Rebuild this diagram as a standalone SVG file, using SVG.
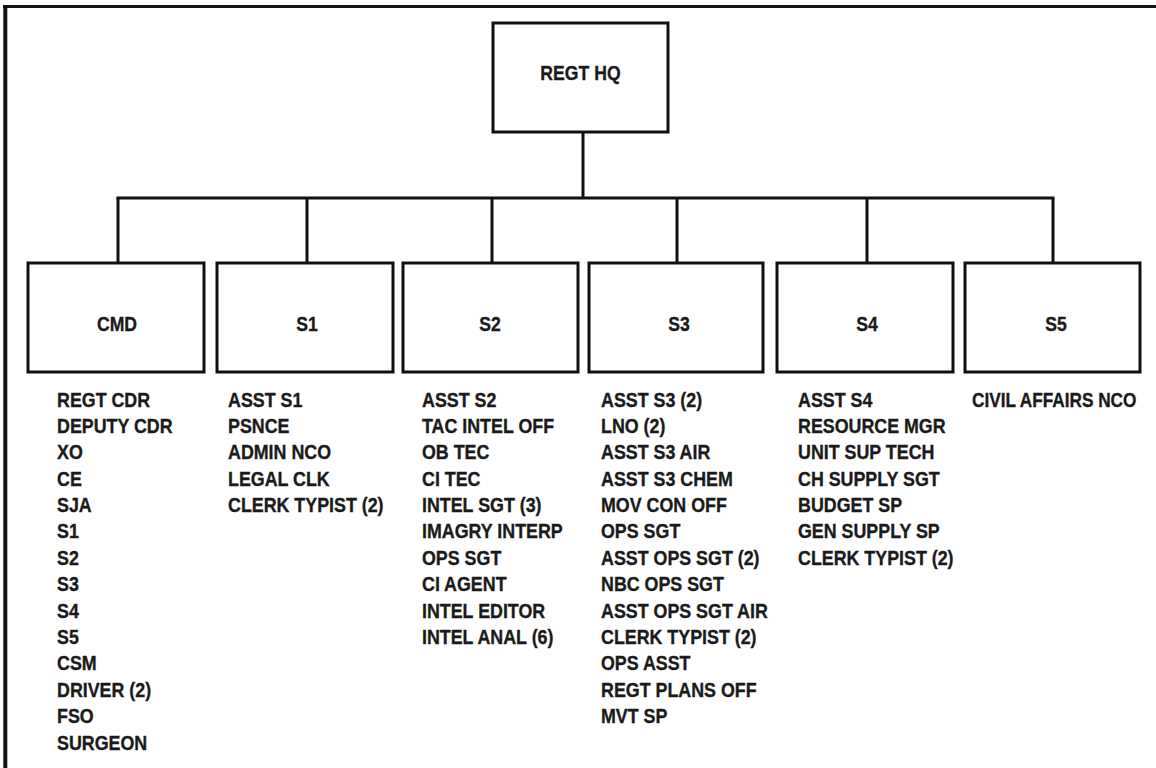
<svg xmlns="http://www.w3.org/2000/svg" width="1156" height="768" viewBox="0 0 1156 768">
<style>
.box{fill:#fff;stroke:#111;stroke-width:3}
.ln{fill:none;stroke:#111;stroke-width:3}
text{font-family:"Liberation Sans",Arial,sans-serif;font-weight:bold;font-size:21px;fill:#1a1a1a;stroke:#1a1a1a;stroke-width:0.35}
.lbl{text-anchor:middle}
</style>
<rect width="1156" height="768" fill="#fff"/>
<g id="frame">
<line x1="3" y1="6.5" x2="1156" y2="6.5" stroke="#111" stroke-width="3"/>
<line x1="5.3" y1="5" x2="5.3" y2="768" stroke="#111" stroke-width="4"/>
</g>
<g id="connectors">
<line class="ln" x1="583" y1="132" x2="583" y2="198"/>
<line class="ln" x1="116.5" y1="198" x2="1054.5" y2="198"/>
<line class="ln" x1="118" y1="198" x2="118" y2="263"/>
<line class="ln" x1="307" y1="198" x2="307" y2="263"/>
<line class="ln" x1="492" y1="198" x2="492" y2="263"/>
<line class="ln" x1="677" y1="198" x2="677" y2="263"/>
<line class="ln" x1="867" y1="198" x2="867" y2="263"/>
<line class="ln" x1="1053" y1="198" x2="1053" y2="263"/>
</g>
<g id="hq">
<rect class="box" x="493" y="23" width="175" height="109"/>
<text class="lbl" transform="translate(580.5,80) scale(0.84,1)">REGT HQ</text>
</g>
<g id="cmd">
<rect class="box" x="28" y="263" width="176" height="109"/>
<text class="lbl" transform="translate(117,331) scale(0.84,1)">CMD</text>
<text transform="translate(57,406.5) scale(0.85,1)">
<tspan x="0" y="0">REGT CDR</tspan>
<tspan x="0" dy="26.4">DEPUTY CDR</tspan>
<tspan x="0" dy="26.4">XO</tspan>
<tspan x="0" dy="26.4">CE</tspan>
<tspan x="0" dy="26.4">SJA</tspan>
<tspan x="0" dy="26.4">S1</tspan>
<tspan x="0" dy="26.4">S2</tspan>
<tspan x="0" dy="26.4">S3</tspan>
<tspan x="0" dy="26.4">S4</tspan>
<tspan x="0" dy="26.4">S5</tspan>
<tspan x="0" dy="26.4">CSM</tspan>
<tspan x="0" dy="26.4">DRIVER (2)</tspan>
<tspan x="0" dy="26.4">FSO</tspan>
<tspan x="0" dy="26.4">SURGEON</tspan>
</text>
</g>
<g id="s1">
<rect class="box" x="217" y="263" width="176" height="109"/>
<text class="lbl" transform="translate(307,331) scale(0.84,1)">S1</text>
<text transform="translate(228,406.5) scale(0.85,1)">
<tspan x="0" y="0">ASST S1</tspan>
<tspan x="0" dy="26.4">PSNCE</tspan>
<tspan x="0" dy="26.4">ADMIN NCO</tspan>
<tspan x="0" dy="26.4">LEGAL CLK</tspan>
<tspan x="0" dy="26.4">CLERK TYPIST (2)</tspan>
</text>
</g>
<g id="s2">
<rect class="box" x="403" y="263" width="175" height="109"/>
<text class="lbl" transform="translate(490,331) scale(0.84,1)">S2</text>
<text transform="translate(422,406.5) scale(0.85,1)">
<tspan x="0" y="0">ASST S2</tspan>
<tspan x="0" dy="26.4">TAC INTEL OFF</tspan>
<tspan x="0" dy="26.4">OB TEC</tspan>
<tspan x="0" dy="26.4">CI TEC</tspan>
<tspan x="0" dy="26.4">INTEL SGT (3)</tspan>
<tspan x="0" dy="26.4">IMAGRY INTERP</tspan>
<tspan x="0" dy="26.4">OPS SGT</tspan>
<tspan x="0" dy="26.4">CI AGENT</tspan>
<tspan x="0" dy="26.4">INTEL EDITOR</tspan>
<tspan x="0" dy="26.4">INTEL ANAL (6)</tspan>
</text>
</g>
<g id="s3">
<rect class="box" x="589" y="263" width="174" height="109"/>
<text class="lbl" transform="translate(679,331) scale(0.84,1)">S3</text>
<text transform="translate(601,406.5) scale(0.85,1)">
<tspan x="0" y="0">ASST S3 (2)</tspan>
<tspan x="0" dy="26.4">LNO (2)</tspan>
<tspan x="0" dy="26.4">ASST S3 AIR</tspan>
<tspan x="0" dy="26.4">ASST S3 CHEM</tspan>
<tspan x="0" dy="26.4">MOV CON OFF</tspan>
<tspan x="0" dy="26.4">OPS SGT</tspan>
<tspan x="0" dy="26.4">ASST OPS SGT (2)</tspan>
<tspan x="0" dy="26.4">NBC OPS SGT</tspan>
<tspan x="0" dy="26.4">ASST OPS SGT AIR</tspan>
<tspan x="0" dy="26.4">CLERK TYPIST (2)</tspan>
<tspan x="0" dy="26.4">OPS ASST</tspan>
<tspan x="0" dy="26.4">REGT PLANS OFF</tspan>
<tspan x="0" dy="26.4">MVT SP</tspan>
</text>
</g>
<g id="s4">
<rect class="box" x="777" y="263" width="176" height="109"/>
<text class="lbl" transform="translate(867,331) scale(0.84,1)">S4</text>
<text transform="translate(798,406.5) scale(0.85,1)">
<tspan x="0" y="0">ASST S4</tspan>
<tspan x="0" dy="26.4">RESOURCE MGR</tspan>
<tspan x="0" dy="26.4">UNIT SUP TECH</tspan>
<tspan x="0" dy="26.4">CH SUPPLY SGT</tspan>
<tspan x="0" dy="26.4">BUDGET SP</tspan>
<tspan x="0" dy="26.4">GEN SUPPLY SP</tspan>
<tspan x="0" dy="26.4">CLERK TYPIST (2)</tspan>
</text>
</g>
<g id="s5">
<rect class="box" x="965" y="263" width="175" height="109"/>
<text class="lbl" transform="translate(1056,331) scale(0.84,1)">S5</text>
<text transform="translate(972,406.5) scale(0.82,1)">CIVIL AFFAIRS NCO</text>
</g>
</svg>
